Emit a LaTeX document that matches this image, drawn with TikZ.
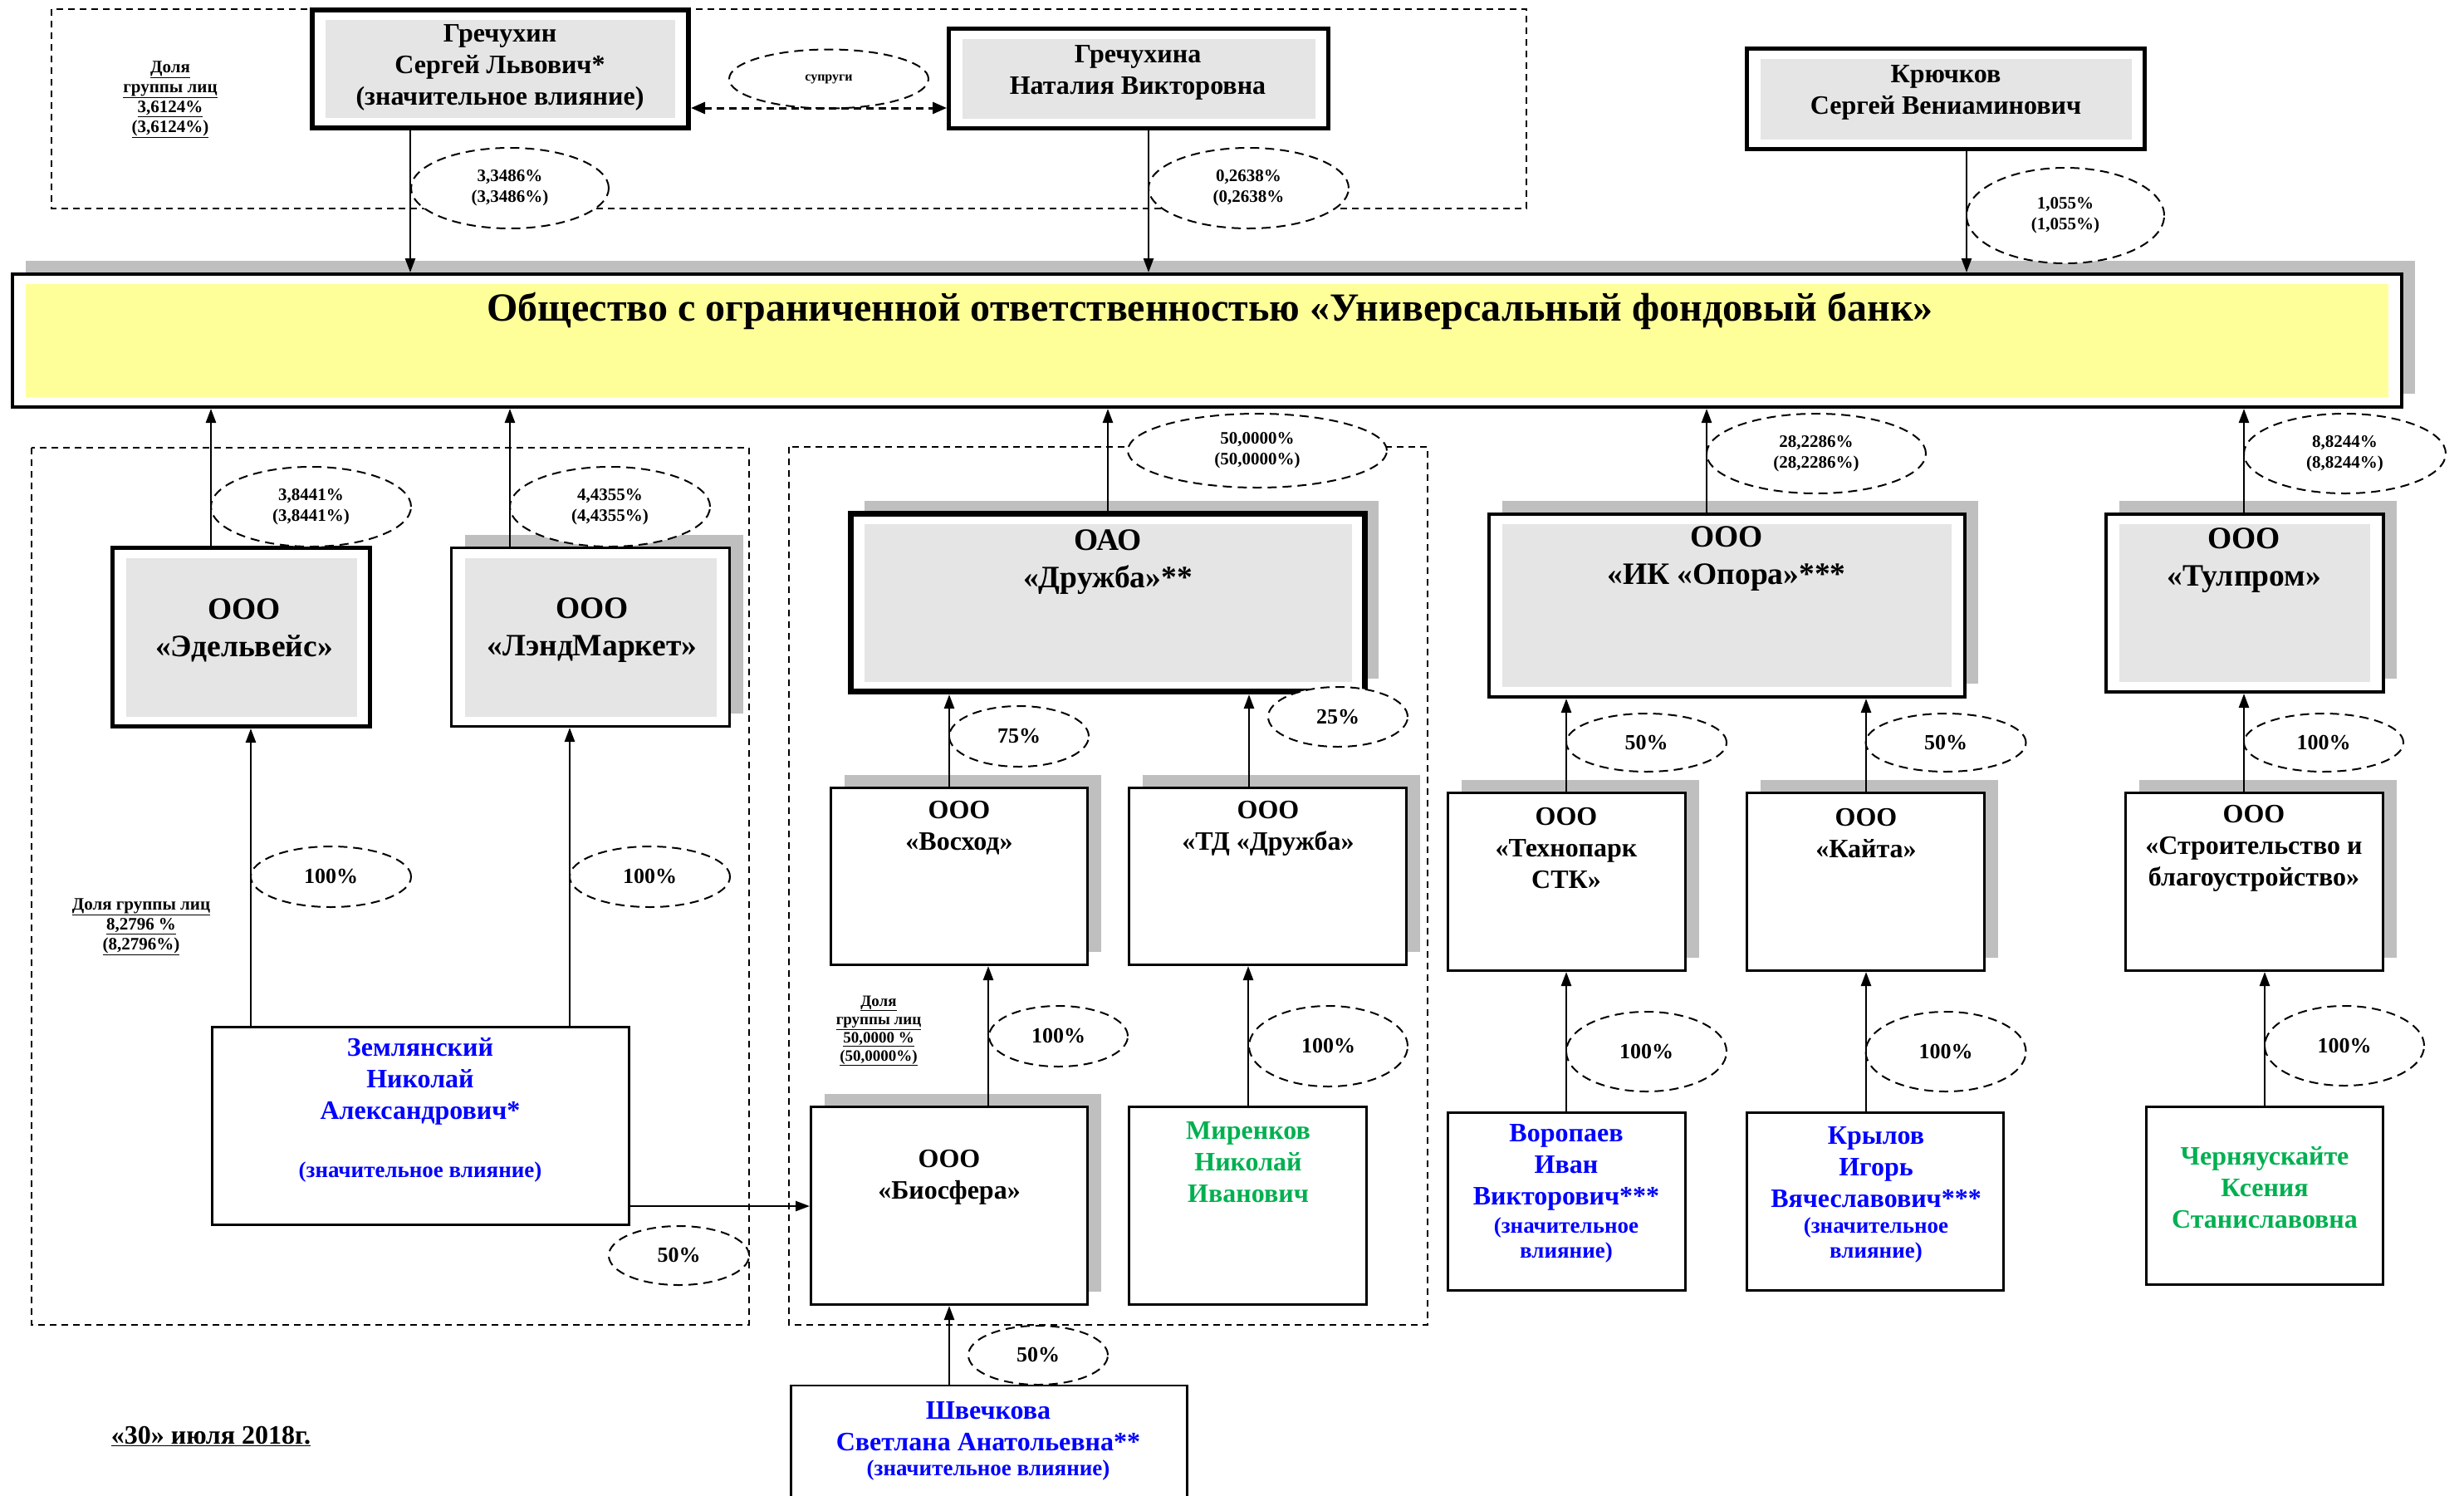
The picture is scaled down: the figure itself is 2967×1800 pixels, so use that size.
\documentclass[tikz,border=0pt]{standalone}
\usepackage{fontspec}
\setmainfont{Liberation Serif}
\usepackage{xcolor}
\usetikzlibrary{arrows.meta,shapes.geometric,shadows}
\colorlet{inner area}{gray!20}
\colorlet{shadow area}{gray!50}
\definecolor{bank area}{RGB}{255,255,153}
\definecolor{person blue}{RGB}{0,0,255}
\definecolor{person green}{RGB}{0,176,80}
\tikzstyle{own} = [line width=2.5pt, -{Triangle[length=17pt,width=12pt]}]
\tikzstyle{spouse} = [line width=3pt, dash pattern=on 9pt off 6pt, {Triangle[length=17pt,width=14pt]}-{Triangle[length=17pt,width=14pt]}]
\tikzset{box/.style={draw, fill=white, line width=3pt, inner sep=0pt},
    inset/.style={path picture={\fill[#1] ([shift={(16pt,-12pt)}]path picture bounding box.north west) rectangle ([shift={(-16pt,12pt)}]path picture bounding box.south east);}},
    shadowed/.style={drop shadow={shadow xshift=16pt, shadow yshift=16pt, opacity=1, fill=shadow area}},
    share/.style={ellipse, draw, fill=white, line width=2pt, dash pattern=on 11pt off 7pt, inner sep=0pt, align=center, font=\bfseries\fontsize{21}{25}\selectfont},
    pct/.style={share, font=\bfseries\fontsize{26}{30}\selectfont},
    group/.style={draw, line width=2pt, dash pattern=on 8pt off 6pt},
    bigtxt/.style={align=center, font=\bfseries\fontsize{37.5}{45}\selectfont},
    midtxt/.style={align=center, font=\bfseries\fontsize{32}{38}\selectfont},
    smalltxt/.style={align=center, font=\bfseries\fontsize{27}{30}\selectfont},
    notetxt/.style={align=center, font=\bfseries\fontsize{21}{24}\selectfont}}

\begin{document}
\begin{tikzpicture}[x=1pt, y=-1pt]
    \path[use as bounding box, fill=white] (0,0) rectangle (2967,1800);
    % groups of persons
    \draw[group] (62,11) rectangle (1838,251);
    \draw[group] (38,539) rectangle (902,1595);
    \draw[group] (950,538) rectangle (1719,1595);
    %
    % owners on top
    \node[box, inset=inner area, line width=6pt, minimum width=453pt, minimum height=142pt] (grech) at (602.5,83) {};
    \node[box, inset=inner area, line width=5pt, minimum width=457pt, minimum height=120pt] (grechA) at (1371,94.5) {};
    \node[box, inset=inner area, line width=5pt, minimum width=479pt, minimum height=121pt] (kryuch) at (2343,119) {};
    % the bank
    \node[box, shadowed, inset=bank area, line width=4pt, minimum width=2877pt, minimum height=160pt] (bank) at (1453.5,410) {};
    % companies
    \node[box, inset=inner area, line width=5pt, minimum width=310pt, minimum height=215pt] (edel) at (290.5,767) {};
    \node[box, shadowed, inset=inner area, minimum width=335pt, minimum height=215pt] (land) at (711,767) {};
    \node[box, shadowed, inset=inner area, line width=7pt, minimum width=619pt, minimum height=214pt] (druzh) at (1334,725.5) {};
    \node[box, shadowed, inset=inner area, line width=4pt, minimum width=573pt, minimum height=220pt] (opora) at (2079.5,729) {};
    \node[box, shadowed, inset=inner area, line width=4pt, minimum width=334pt, minimum height=214pt] (tulp) at (2703,726) {};
    \node[box, shadowed, minimum width=309pt, minimum height=213pt] (voskh) at (1155,1055) {};
    \node[box, shadowed, minimum width=334pt, minimum height=213pt] (tdd) at (1526.5,1055) {};
    \node[box, shadowed, minimum width=286pt, minimum height=214pt] (techn) at (1886.5,1061.5) {};
    \node[box, shadowed, minimum width=286pt, minimum height=214pt] (kaita) at (2246.5,1061.5) {};
    \node[box, shadowed, minimum width=310pt, minimum height=214pt] (stroy) at (2714.5,1061.5) {};
    \node[box, shadowed, minimum width=333pt, minimum height=238pt] (bios) at (1143,1451.5) {};
    % persons
    \node[box, line width=2.5pt, minimum width=502pt, minimum height=238pt] (zeml) at (506.5,1355.5) {};
    \node[box, line width=2.5pt, minimum width=286pt, minimum height=238pt] (miren) at (1502.5,1451.5) {};
    \node[box, line width=2.5pt, minimum width=286pt, minimum height=214pt] (vorop) at (1886.5,1446.5) {};
    \node[box, line width=2.5pt, minimum width=309pt, minimum height=214pt] (krylov) at (2258,1446.5) {};
    \node[box, line width=2.5pt, minimum width=285pt, minimum height=214pt] (chern) at (2727,1439.5) {};
    \node[box, line width=2.5pt, minimum width=477pt, minimum height=147pt] (shvech) at (1191,1741.5) {};
    %
    % shares
    \node[share, minimum width=238pt, minimum height=97pt] (shGrech) at (614,226.5) {3,3486\%\\(3,3486\%)};
    \node[share, minimum width=241pt, minimum height=97pt] (shGrechA) at (1503.5,226.5) {0,2638\%\\(0,2638\%};
    \node[share, minimum width=238pt, minimum height=115pt] (shKryuch) at (2487,259.5) {1,055\%\\(1,055\%)};
    \node[share, font=\bfseries\fontsize{16}{19}\selectfont, minimum width=240pt, minimum height=71pt] (spouses) at (998,95) {супруги};
    \node[share, minimum width=241pt, minimum height=96pt] (shEdel) at (374.5,610) {3,8441\%\\(3,8441\%)};
    \node[share, minimum width=241pt, minimum height=96pt] (shLand) at (734.5,610) {4,4355\%\\(4,4355\%)};
    \node[share, minimum width=312pt, minimum height=89pt] (shDruzh) at (1514,542.5) {50,0000\%\\(50,0000\%)};
    \node[share, minimum width=264pt, minimum height=96pt] (shOpora) at (2187,546) {28,2286\%\\(28,2286\%)};
    \node[share, minimum width=243pt, minimum height=96pt] (shTulp) at (2823.5,546) {8,8244\%\\(8,8244\%)};
    \node[pct, minimum width=168pt, minimum height=73pt] (shVoskh) at (1227,886.5) {75\%};
    \node[pct, minimum width=168pt, minimum height=72pt] (shTdd) at (1611,863) {25\%};
    \node[pct, minimum width=193pt, minimum height=70pt] (shTechn) at (1982.5,894) {50\%};
    \node[pct, minimum width=193pt, minimum height=70pt] (shKaita) at (2343,894) {50\%};
    \node[pct, minimum width=192pt, minimum height=70pt] (shStroy) at (2798,894) {100\%};
    \node[pct, minimum width=193pt, minimum height=73pt] (shZemlE) at (398.5,1055.5) {100\%};
    \node[pct, minimum width=193pt, minimum height=73pt] (shZemlL) at (782.5,1055.5) {100\%};
    \node[pct, minimum width=167pt, minimum height=73pt] (shBios) at (1274.5,1247.5) {100\%};
    \node[pct, minimum width=191pt, minimum height=97pt] (shMiren) at (1599.5,1259.5) {100\%};
    \node[pct, minimum width=193pt, minimum height=96pt] (shVorop) at (1982.5,1266) {100\%};
    \node[pct, minimum width=193pt, minimum height=96pt] (shKrylov) at (2343,1266) {100\%};
    \node[pct, minimum width=192pt, minimum height=96pt] (shChern) at (2823,1259) {100\%};
    \node[pct, minimum width=169pt, minimum height=71pt] (shZemlB) at (817.5,1511.5) {50\%};
    \node[pct, minimum width=168pt, minimum height=71pt] (shShvech) at (1250,1631.5) {50\%};
    %
    % ownership
    \draw[own] (grech.south -| 494,0) -- (bank.north -| 494,0);
    \draw[own] (grechA.south -| 1383,0) -- (bank.north -| 1383,0);
    \draw[own] (kryuch.south -| 2368,0) -- (bank.north -| 2368,0);
    \draw[spouse] (grech.east |- 0,130) -- (grechA.west |- 0,130);
    \draw[own] (edel.north -| 254,0) -- (bank.south -| 254,0);
    \draw[own] (land.north -| 614,0) -- (bank.south -| 614,0);
    \draw[own] (druzh.north -| 1334,0) -- (bank.south -| 1334,0);
    \draw[own] (opora.north -| 2055,0) -- (bank.south -| 2055,0);
    \draw[own] (tulp.north -| 2702,0) -- (bank.south -| 2702,0);
    \draw[own] (voskh.north -| 1143,0) -- (druzh.south -| 1143,0);
    \draw[own] (tdd.north -| 1504,0) -- (druzh.south -| 1504,0);
    \draw[own] (techn.north -| 1886,0) -- (opora.south -| 1886,0);
    \draw[own] (kaita.north -| 2247,0) -- (opora.south -| 2247,0);
    \draw[own] (stroy.north -| 2702,0) -- (tulp.south -| 2702,0);
    \draw[own] (zeml.north -| 302,0) -- (edel.south -| 302,0);
    \draw[own] (zeml.north -| 686,0) -- (land.south -| 686,0);
    \draw[own] (zeml.east |- 0,1452) -- (bios.west |- 0,1452);
    \draw[own] (bios.north -| 1190,0) -- (voskh.south -| 1190,0);
    \draw[own] (miren.north -| 1503,0) -- (tdd.south -| 1503,0);
    \draw[own] (vorop.north -| 1886,0) -- (techn.south -| 1886,0);
    \draw[own] (krylov.north -| 2247,0) -- (kaita.south -| 2247,0);
    \draw[own] (chern.north -| 2727,0) -- (stroy.south -| 2727,0);
    \draw[own] (shvech.north -| 1143,0) -- (bios.south -| 1143,0);
    %
    % texts
    \node[midtxt] (grechT) at (602,81) {Гречухин\\Сергей Львович*\\(значительное влияние)};
    \node[midtxt] (grechAT) at (1370,87) {Гречухина\\Наталия Викторовна};
    \node[midtxt] (kryuchT) at (2343,111.5) {Крючков\\Сергей Вениаминович};
    \node[font=\bfseries\fontsize{48}{52}\selectfont] (bankT) at (1457,374) {Общество с ограниченной ответственностью «Универсальный фондовый банк»};
    \node[bigtxt] (edelT) at (294,759) {ООО\\«Эдельвейс»};
    \node[bigtxt] (landT) at (713,759) {ООО\\«ЛэндМаркет»};
    \node[bigtxt] (druzhT) at (1334,677) {ОАО\\«Дружба»**};
    \node[bigtxt] (oporaT) at (2079,673) {ООО\\«ИК «Опора»***};
    \node[bigtxt] (tulpT) at (2702,675) {ООО\\«Тулпром»};
    \node[midtxt] (voskhT) at (1155,997) {ООО\\«Восход»};
    \node[midtxt] (tddT) at (1527,997) {ООО\\«ТД «Дружба»};
    \node[midtxt] (technT) at (1886,1021.5) {ООО\\«Технопарк\\СТК»};
    \node[midtxt] (kaitaT) at (2247,1003) {ООО\\«Кайта»};
    \node[midtxt] (stroyT) at (2714,1021.5) {ООО\\«Строительство и\\благоустройство»};
    \node[midtxt] (biosT) at (1143,1417) {ООО\\«Биосфера»};
    \node[midtxt, person blue] (zemlT) at (506,1302) {Землянский\\Николай\\Александрович*};
    \node[smalltxt, person blue] (zemlS) at (506,1411) {(значительное влияние)};
    \node[midtxt, person green] (mirenT) at (1503,1399) {Миренков\\Николай\\Иванович};
    \node[midtxt, person blue] (voropT) at (1886,1405) {Воропаев\\Иван\\Викторович***};
    \node[smalltxt, person blue] (voropS) at (1886,1493) {(значительное\\влияние)};
    \node[midtxt, person blue] (krylovT) at (2259,1405) {Крылов\\Игорь\\Вячеславович***};
    \node[smalltxt, person blue] (krylovS) at (2259,1493) {(значительное\\влияние)};
    \node[midtxt, person green] (chernT) at (2727,1430) {Черняускайте\\Ксения\\Станиславовна};
    \node[midtxt, person blue] (shvechT) at (1190,1717) {Швечкова\\Светлана Анатольевна**};
    \node[smalltxt, person blue] (shvechS) at (1190,1770) {(значительное влияние)};
    % notes
    \node[notetxt] (dolyaTop) at (205,120) {\underline{Доля}\\\underline{группы лиц}\\\underline{3,6124\%}\\\underline{(3,6124\%)}};
    \node[notetxt] (dolyaLeft) at (170,1116) {\underline{Доля группы лиц}\\\underline{8,2796 \%}\\\underline{(8,2796\%)}};
    \node[notetxt, font=\bfseries\fontsize{19}{22}\selectfont] (dolyaMid) at (1058,1241) {\underline{Доля}\\\underline{группы лиц}\\\underline{50,0000 \%}\\\underline{(50,0000\%)}};
    \node[font=\bfseries\fontsize{32}{36}\selectfont] (date) at (254,1729) {\underline{«30» июля 2018г.}};
\end{tikzpicture}
\end{document}
